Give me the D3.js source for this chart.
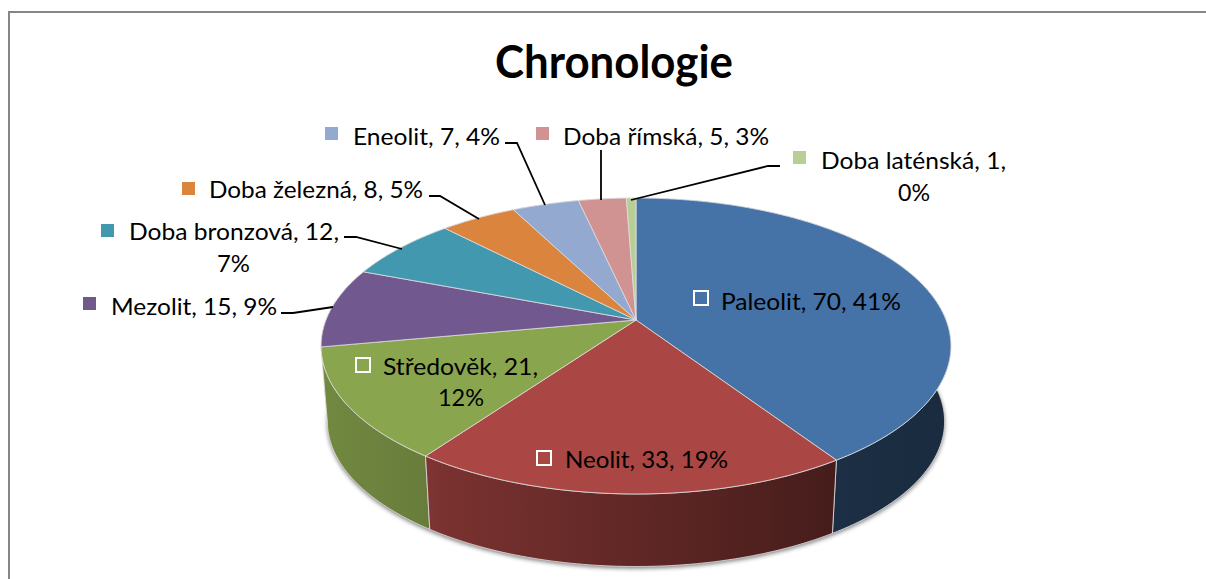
<!DOCTYPE html>
<html lang="cs">
<head>
<meta charset="utf-8">
<script src="https://cdn.jsdelivr.net/npm/d3@7/dist/d3.min.js"></script>
<style>
html,body{margin:0;padding:0;background:#fff;overflow:hidden}
svg{display:block}
text{font-family:Lato,"Open Sans",sans-serif;fill:#000}
</style>
</head>
<body>
<svg id="c" width="1206" height="579"></svg>
<script>
// --- data ---
const chartTitle = "Chronologie";
const categories = ["Paleolit","Neolit","Středověk","Mezolit","Doba bronzová","Doba železná","Eneolit","Doba římská","Doba laténská"];
const values = [70,33,21,15,12,8,7,5,1];
const percents = [41,19,12,9,7,5,4,3,0];
const colors = ["#4572A7","#AA4643","#89A54E","#71588F","#4198AF","#DB843D","#93A9CF","#D19392","#B9CD96"];

// --- layout (label placement, independent of the data arrays) ---
const labelLayout = [
  {mx:693,my:290,hollow:true, lines:[[721,310,180]]},
  {mx:536,my:450,hollow:true, lines:[[565,468,163]]},
  {mx:355,my:357,hollow:true, lines:[[383,375,155],[438,406,46]], brk:true},
  {mx:83, my:297,lines:[[111,315,166]], leader:[[281,313],[293,313],[333,307]]},
  {mx:101,my:224,lines:[[129,240,210],[217,272,33]], brk:true, leader:[[344,237],[356,237],[402,249]]},
  {mx:182,my:182,lines:[[209,198,214]], leader:[[429,196],[440,196],[479,219]]},
  {mx:325,my:127,lines:[[353,145,147]], leader:[[505,143],[517,143],[545,205]]},
  {mx:536,my:127,lines:[[563,145,206]], leader:[[601,150],[601,200]]},
  {mx:793,my:151,lines:[[821,169,185],[898,201,32]], brk:true, leader:[[780,166],[768,166],[631,200]]}
];

const svg = d3.select("#c");
const defs = svg.append("defs");

// frame
svg.append("path").attr("d","M9 579V12H1206").attr("fill","none").attr("stroke","#868686").attr("stroke-width",2);

// title
svg.append("text").text(chartTitle)
  .attr("x",495).attr("y",78).attr("font-size",45).attr("font-weight",700)
  .attr("textLength",238).attr("lengthAdjust","spacingAndGlyphs");

// --- pie geometry with a perspective projection of the disc ---
const pie = d3.pie().sort(null).value(d=>d).startAngle(0).endAngle(2*Math.PI);
const arcs = pie(values);
const cx=636, cyTop=320, cyBottom=396, R=310, A=143.4, persp=-0.1757, shrink=0.98;
const unitX = d3.scaleLinear().domain([-1,1]).range([-R,R]);
const unitY = d3.scaleLinear().domain([-1,1]).range([-A,A]);
function project(theta,bottom){
  const u=Math.sin(theta), v=-Math.cos(theta), w=1+persp*v, k=bottom?shrink:1;
  return [cx+k*unitX(u)/w, (bottom?cyBottom:cyTop)+k*unitY(v)/w];
}
function sample(a0,a1,bottom){
  const n=Math.max(2,Math.ceil(Math.abs(a1-a0)/0.01));
  return d3.range(n+1).map(i=>project(a0+(a1-a0)*i/n,bottom));
}
const line = d3.line();
const edge = "rgba(225,225,225,0.8)";

// soft shadow below the solid
const blur = defs.append("filter").attr("id","sh").attr("x","-10%").attr("y","-10%").attr("width","120%").attr("height","120%");
blur.append("feGaussianBlur").attr("stdDeviation",2);
svg.append("path")
  .attr("d",line(sample(0,2*Math.PI,true))+"Z")
  .attr("transform","translate(0,2)")
  .attr("fill","#000").attr("fill-opacity",0.5).attr("filter","url(#sh)");

// side walls: horizontal shading of each slice colour
const shadeStops=[[320,.83],[425,.76],[440,.72],[832,.41],[950,.38]];
const shadeX=d3.scaleLinear().domain([320,950]).range([0,1]);
arcs.forEach((d,i)=>{
  const g=defs.append("linearGradient").attr("id","side"+i)
    .attr("gradientUnits","userSpaceOnUse").attr("x1",320).attr("x2",950).attr("y1",0).attr("y2",0);
  shadeStops.forEach(([x,f])=>{
    const c=d3.rgb(colors[i]);
    g.append("stop").attr("offset",shadeX(x)).attr("stop-color",d3.rgb(c.r*f,c.g*f,c.b*f).formatHex());
  });
});
const depthOrder = arcs.map((d,i)=>i).sort((a,b)=>{
  const m=d=>-Math.cos((d.startAngle+d.endAngle)/2);
  return m(arcs[a])-m(arcs[b]);
});
svg.append("g").selectAll("path").data(depthOrder).join("path")
  .attr("d",i=>line(sample(arcs[i].startAngle,arcs[i].endAngle,false).concat(sample(arcs[i].endAngle,arcs[i].startAngle,true)))+"Z")
  .attr("fill",i=>`url(#side${i})`)
  .attr("stroke",edge).attr("stroke-width",1);

// top faces
svg.append("g").selectAll("path").data(arcs).join("path")
  .attr("d",d=>line([[cx,cyTop]].concat(sample(d.startAngle,d.endAngle,false)))+"Z")
  .attr("fill",(d,i)=>colors[i])
  .attr("stroke",edge).attr("stroke-width",1).attr("stroke-linejoin","round");

// leader lines
svg.append("g").selectAll("path").data(labelLayout.filter(l=>l.leader)).join("path")
  .attr("d",l=>line(l.leader)).attr("fill","none").attr("stroke","#000").attr("stroke-width",1.8);

// labels
const labels = svg.append("g").selectAll("g").data(labelLayout).join("g");
labels.append("rect")
  .attr("x",l=>l.mx+(l.hollow?1:0)).attr("y",l=>l.my+(l.hollow?1:0))
  .attr("width",l=>l.hollow?14:13).attr("height",l=>l.hollow?14:13)
  .attr("fill",(l,i)=>l.hollow?"none":colors[i])
  .attr("stroke",l=>l.hollow?"#fff":"none").attr("stroke-width",2);
labels.each(function(l,i){
  const full=`${categories[i]}, ${values[i]}, ${percents[i]}%`;
  const parts=l.brk?[`${categories[i]}, ${values[i]},`,`${percents[i]}%`]:[full];
  d3.select(this).selectAll("text").data(parts).join("text")
    .text(t=>t)
    .attr("x",(t,j)=>l.lines[j][0]).attr("y",(t,j)=>l.lines[j][1])
    .attr("font-size",24)
    .attr("textLength",(t,j)=>l.lines[j][2]).attr("lengthAdjust","spacingAndGlyphs");
});
</script>
</body>
</html>
